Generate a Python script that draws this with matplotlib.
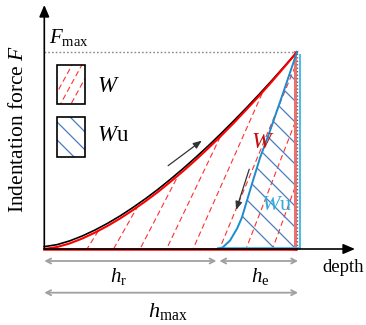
import numpy as np
import matplotlib
matplotlib.use("Agg")
import matplotlib.pyplot as plt
from matplotlib.patches import Polygon, Rectangle

plt.rcParams['font.family'] = ['Liberation Serif', 'DejaVu Serif']
plt.rcParams['mathtext.fontset'] = 'custom'
plt.rcParams['mathtext.rm'] = 'Liberation Serif'
plt.rcParams['mathtext.it'] = 'Liberation Serif:italic'

# depth normalised by h_max, force normalised by F_max
depth_load = [0, .05, .10, .15, .20, .25, .30, .35, .40, .45, .50,
              .55, .60, .65, .70, .75, .80, .85, .90, .95, 1.0]
force_load = [0, .010, .028, .053, .083, .117, .155, .197, .242, .290, .342,
              .396, .453, .513, .575, .640, .708, .777, .849, .924, 1.0]
force_load_outer = [.012, .022, .041, .066, .096, .130, .168, .210, .255, .303, .355,
                    .409, .466, .525, .587, .651, .717, .785, .855, .927, 1.0]

depth_unload = [.687, .706, .735, .763, .782, .802, .826, .854, .893, .945, 1.0]
force_unload = [0, .008, .043, .104, .160, .246, .348, .464, .599, .792, 1.0]

h_r = 0.687
h_max = 1.0
F_max = 1.0

# pixel scale of the canvas (px per unit)
sx, sy = 252.7, 197.0

fig = plt.figure(figsize=(3.66, 3.25), dpi=100)
ax = fig.add_axes([0, 0, 1, 1])
ax.set_xlim(-44.3 / sx, (366 - 44.3) / sx)
ax.set_ylim(-76 / sy, 249 / sy)
ax.axis('off')


def hatch(poly, bases, slopes, **kw):
    # lines through (base, base_y) with given slope (data units), clipped to poly
    patch = Polygon(poly, closed=True, fill=False, ec='none')
    ax.add_patch(patch)
    for (bx, by), s in zip(bases, slopes):
        xs = np.array([bx - 2, bx + 2])
        ln, = ax.plot(xs, by + s * (xs - bx), **kw)
        ln.set_clip_path(patch)


# ---- W area (under loading curve), red dashed hatch
W_poly = list(zip(depth_load, force_load)) + [(h_max, 0)]
red_x = 42.7 / sx + np.arange(9) * 26.5 / sx
red_slope = np.linspace(1.6, 2.9, 9) * sx / sy
hatch(W_poly, [(x, 0) for x in red_x], red_slope,
      color='#ff3030', lw=0.8, dashes=(5, 3), zorder=2)

# ---- Wu area (under unloading curve), blue hatch
Wu_poly = list(zip(depth_unload, force_unload)) + [(h_max, 0)]
blue_y = (249 - (82 + np.arange(10) * 21)) / sy
hatch(Wu_poly, [(h_max, y) for y in blue_y], [-sx / sy] * 10,
      color='#4a7cc4', lw=0.9, zorder=2)

# right edge of the areas
ax.plot([h_max - 2.5 / sx] * 2, [0, F_max], color='#f07070', lw=2.2, zorder=3)
ax.plot([h_max] * 2, [0, F_max], color='#666666', lw=1, ls=(0, (1, 1.5)), zorder=4)
ax.plot([h_max + 3 / sx] * 2, [0, F_max - 3 / sy], color='#3cb4e6', lw=1.3, zorder=3)
ax.plot([h_r, h_max + 3 / sx], [1.5 / sy] * 2, color='#3cb4e6', lw=1.3, zorder=3)

# curves
ax.plot(depth_load, force_load_outer, color='k', lw=1.2, zorder=5)
ax.plot(depth_load, force_load, color='#ff0000', lw=1.5, zorder=5)
ax.plot(depth_unload, force_unload, color='#1c8ccc', lw=1.4, zorder=5)
ax.plot([0, h_max - 1.5 / sx], [0, 0], color='#ff0000', lw=1.8, zorder=5)

# axes arrows
ax.annotate('', xy=(310.7 / sx, 0), xytext=(0, 0),
            arrowprops=dict(arrowstyle='-|>,head_length=0.7,head_width=0.3',
                            color='k', lw=1.2, shrinkA=0, shrinkB=0), zorder=6)
ax.annotate('', xy=(0, 244 / sy), xytext=(0, 0),
            arrowprops=dict(arrowstyle='-|>,head_length=0.7,head_width=0.3',
                            color='k', lw=1.2, shrinkA=0, shrinkB=0), zorder=6)

# F_max guide
ax.plot([0, h_max], [F_max, F_max], color='#888888', lw=1, ls=(0, (1.2, 1.5)), zorder=1)
ax.text(0.020, F_max + 0.018, r'$F_{\mathrm{max}}$', fontsize=15, ha='left', va='bottom')

# dimension arrows
dim = dict(arrowstyle='<->,head_length=0.35,head_width=0.18', color='#a0a0a0',
           lw=1.3, shrinkA=0, shrinkB=0)
y1, y2 = -12 / sy, -43.7 / sy
ax.annotate('', xy=(0, y1), xytext=(h_r - 1.5 / sx, y1), arrowprops=dim)
ax.annotate('', xy=(h_r + 1.5 / sx, y1), xytext=(h_max + 1 / sx, y1), arrowprops=dim)
ax.annotate('', xy=(0, y2), xytext=(h_max + 1 / sx, y2), arrowprops=dim)
ax.text(0.292, -0.142, r'$h_{\mathrm{r}}$', fontsize=15, ha='center', va='center')
ax.text(0.853, -0.142, r'$h_{\mathrm{e}}$', fontsize=15, ha='center', va='center')
ax.text(0.489, -0.345, r'$h_{\mathrm{max}}$', fontsize=16, ha='center', va='baseline')
ax.text(1.182, -0.095, 'depth', fontsize=13.5, ha='center', va='center')

ax.text(-0.104, 0.612, r'Indentation force $F$', fontsize=15.5, rotation=90,
        ha='center', va='center')

# direction arrows
small = dict(arrowstyle='-|>,head_length=0.5,head_width=0.2', color='#333333',
             lw=0.9, shrinkA=0, shrinkB=0)
ax.annotate('', xy=(0.623, 0.550), xytext=(0.49, 0.423), arrowprops=small)
ax.annotate('', xy=(0.759, 0.198), xytext=(0.811, 0.405), arrowprops=small)

# in-plot labels
ax.text(0.866, 0.540, r'$W$', fontsize=17, color='#c41010', ha='center', va='center',
        zorder=7)
ax.text(0.921, 0.222, r'$W\mathrm{u}$', fontsize=16, color='#33aadd', ha='center',
        va='center', zorder=7)

# legend boxes
bx0, bx1 = 13 / sx, 40.7 / sx
box1 = (0.736, 0.934)
box2 = (0.469, 0.669)
for (b0, b1) in (box1, box2):
    ax.add_patch(Rectangle((bx0, b0), bx1 - bx0, b1 - b0, fill=False, ec='k', lw=1.2,
                           zorder=6))
p1 = [(bx0, box1[0]), (bx1, box1[0]), (bx1, box1[1]), (bx0, box1[1])]
hatch(p1, [(x / sx, box1[0]) for x in (6.4, 16.2, 26.7)], [1.83 * sx / sy] * 3,
      color='#ff3030', lw=0.8, dashes=(5, 3), zorder=5)
p2 = [(bx0, box2[0]), (bx1, box2[0]), (bx1, box2[1]), (bx0, box2[1])]
hatch(p2, [(bx0, box2[1] - v / sy) for v in (-13, 5, 23)], [-sx / sy] * 3,
      color='#4a7cc4', lw=0.9, zorder=5)
ax.text(0.209, 0.827, r'$W$', fontsize=16.5, ha='left', va='center')
ax.text(0.209, 0.574, r'$W\mathrm{u}$', fontsize=16.5, ha='left', va='center')

fig.savefig('out.png', dpi=100)
